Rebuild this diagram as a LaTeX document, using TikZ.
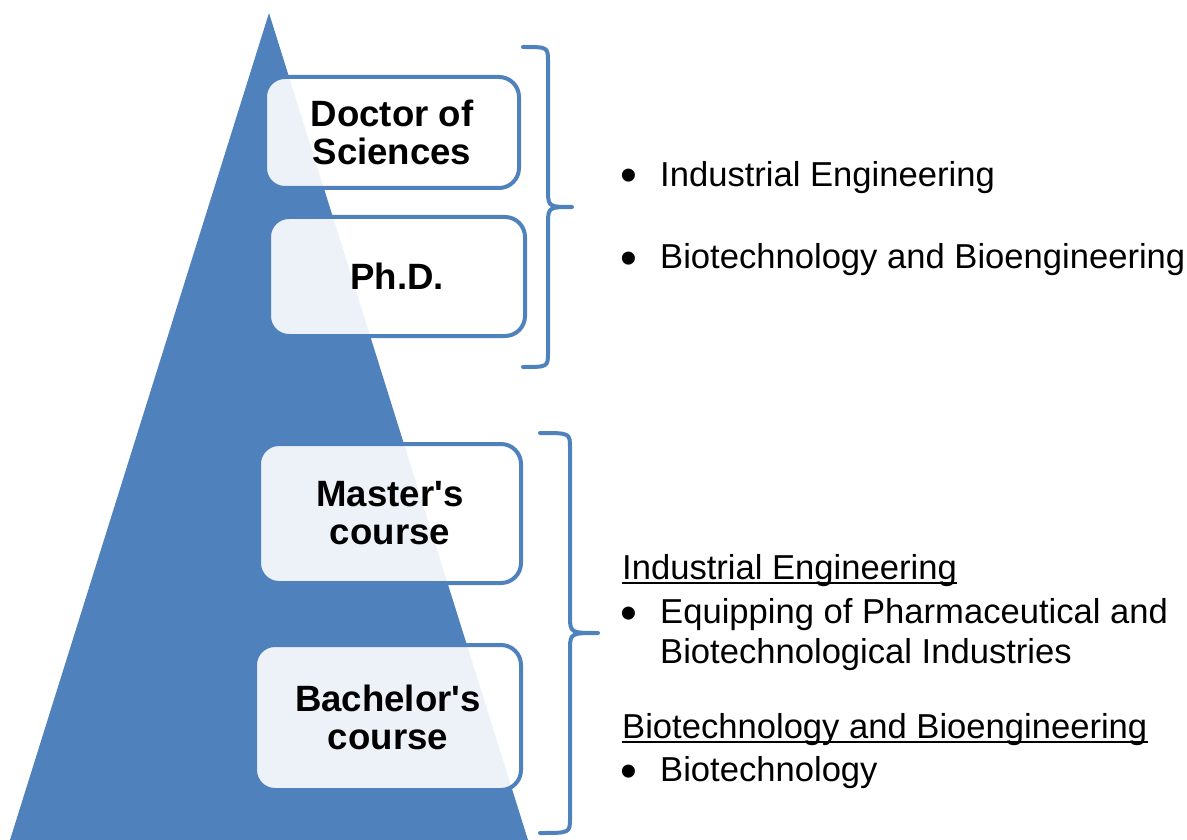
\documentclass[tikz,border=0pt]{standalone}
\usepackage{fontspec}
\setmainfont{Liberation Sans}
\definecolor{pyr}{HTML}{4F81BD}
\newcommand{\lbl}{\fontsize{36.6}{38}\selectfont\bfseries}
\newcommand{\txt}{\fontsize{34.6}{40}\selectfont}

\begin{document}
\begin{tikzpicture}[x=1pt,y=-1pt,
    level/.style={draw=pyr,line width=4pt,rounded corners=20pt,fill=white,
      fill opacity=0.9,text opacity=1,align=center,inner sep=0pt,font=\lbl},
    brace/.style={draw=pyr,line width=4pt,line cap=round,line join=round},
    item/.style={anchor=base west,inner sep=0pt,font=\txt},
    dot/.style={anchor=base,inner sep=0pt,font=\fontsize{48}{48}\selectfont,yshift=-6pt}]
  \useasboundingbox (0,0) rectangle (1187,840);
  % pyramid
  \fill[pyr] (269,13) -- (528,840) -- (10,840) -- cycle;
  % levels
  \node[level,minimum width=254pt,minimum height=111pt] (doc) at (392,132.5) {Doctor of\\Sciences};
  \node[level,minimum width=256pt,minimum height=119pt] (phd) at (397,276.5) {Ph.D.};
  \node[level,minimum width=262pt,minimum height=139pt] (mas) at (390,513.5) {Master\textquotesingle s\\course};
  \node[level,minimum width=266pt,minimum height=145pt] (bac) at (388,717.5) {Bachelor\textquotesingle s\\course};
  % braces
  \draw[brace] (523,47) .. controls (548,47) .. (548,62) -- (548,192)
    .. controls (548,207) and (550,207) .. (572,207)
    .. controls (550,207) and (548,207) .. (548,222) -- (548,352)
    .. controls (548,367) .. (523,367);
  \draw[brace] (540,433) .. controls (570,433) .. (570,448) -- (570,618)
    .. controls (570,633) and (572,633) .. (598,633)
    .. controls (572,633) and (570,633) .. (570,648) -- (570,818)
    .. controls (570,833) .. (540,833);
  % upper list
  \node[dot] (d1) at (629,186) {\textbullet};
  \node[item] (ie1) at (660,186) {Industrial Engineering};
  \node[dot] (d2) at (629,268) {\textbullet};
  \node[item] (bb1) at (660,268) {Biotechnology and Bioengineering};
  % lower list
  \node[item] (ie2) at (622,579) {Industrial Engineering};
  \draw[line width=2.5pt] ([yshift=-4pt]ie2.base west) -- ([yshift=-4pt]ie2.base east);
  \node[dot] (d3) at (629,623) {\textbullet};
  \node[item] (eq) at (660,623) {Equipping of Pharmaceutical and};
  \node[item] (bi) at (660,663) {Biotechnological Industries};
  \node[item] (bb2) at (622,738) {Biotechnology and Bioengineering};
  \draw[line width=2.5pt] ([yshift=-4pt]bb2.base west) -- ([yshift=-4pt]bb2.base east);
  \node[dot] (d4) at (629,781) {\textbullet};
  \node[item] (bt) at (660,781) {Biotechnology};
\end{tikzpicture}
\end{document}
